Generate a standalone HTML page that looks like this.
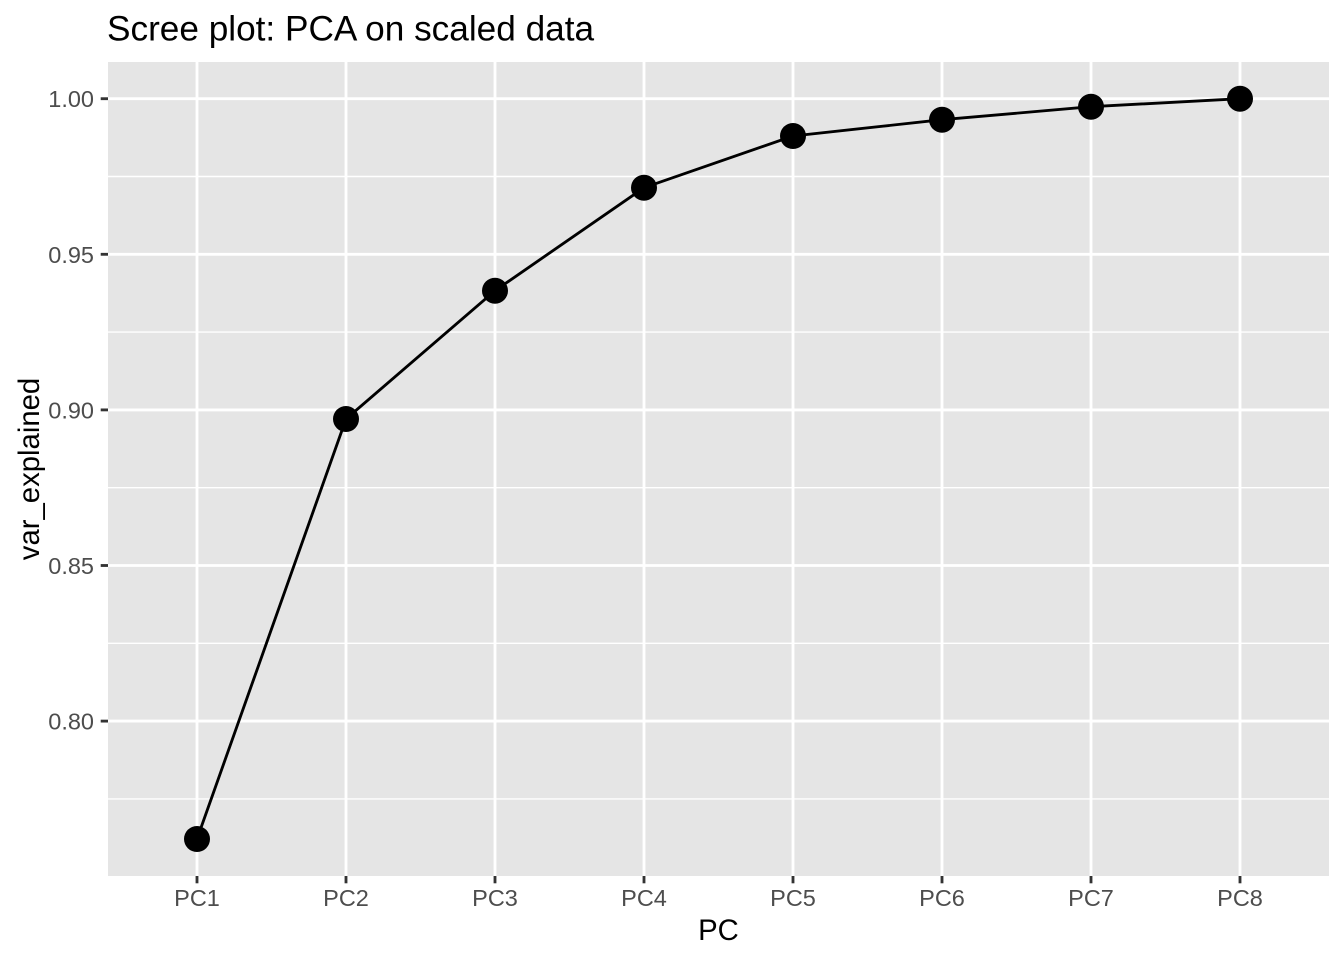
<!DOCTYPE html>
<html>
<head>
<meta charset="utf-8">
<style>
html,body{margin:0;padding:0;background:#fff;}
svg{display:block;}
text{font-family:"Liberation Sans",Arial,sans-serif;}
</style>
</head>
<body>
<svg width="1344" height="960" viewBox="0 0 1344 960" xmlns="http://www.w3.org/2000/svg">
<rect x="0" y="0" width="1344" height="960" fill="#ffffff"/>
<!-- panel -->
<rect x="108" y="62" width="1221" height="814" fill="#E5E5E5"/>
<!-- minor gridlines -->
<g stroke="#ffffff" stroke-width="1.42">
<line x1="108" x2="1329" y1="176.5" y2="176.5"/>
<line x1="108" x2="1329" y1="332.1" y2="332.1"/>
<line x1="108" x2="1329" y1="487.7" y2="487.7"/>
<line x1="108" x2="1329" y1="643.3" y2="643.3"/>
<line x1="108" x2="1329" y1="798.9" y2="798.9"/>
</g>
<!-- major gridlines -->
<g stroke="#ffffff" stroke-width="2.84">
<line x1="108" x2="1329" y1="98.7" y2="98.7"/>
<line x1="108" x2="1329" y1="254.3" y2="254.3"/>
<line x1="108" x2="1329" y1="409.9" y2="409.9"/>
<line x1="108" x2="1329" y1="565.5" y2="565.5"/>
<line x1="108" x2="1329" y1="721.1" y2="721.1"/>
<line y1="62" y2="876" x1="197" x2="197"/>
<line y1="62" y2="876" x1="346" x2="346"/>
<line y1="62" y2="876" x1="495" x2="495"/>
<line y1="62" y2="876" x1="644" x2="644"/>
<line y1="62" y2="876" x1="793" x2="793"/>
<line y1="62" y2="876" x1="942" x2="942"/>
<line y1="62" y2="876" x1="1091" x2="1091"/>
<line y1="62" y2="876" x1="1240" x2="1240"/>
</g>
<!-- data line -->
<polyline fill="none" stroke="#000000" stroke-width="2.84" stroke-linejoin="round" points="197,839 346,419 495,290.7 644,187.7 793,136 942,119.7 1091,106.7 1240,98.7"/>
<!-- points -->
<g fill="#000000">
<circle cx="197" cy="839" r="13"/>
<circle cx="346" cy="419" r="13"/>
<circle cx="495" cy="290.7" r="13"/>
<circle cx="644" cy="187.7" r="13"/>
<circle cx="793" cy="136" r="13"/>
<circle cx="942" cy="119.7" r="13"/>
<circle cx="1091" cy="106.7" r="13"/>
<circle cx="1240" cy="98.7" r="13"/>
</g>
<!-- ticks -->
<g stroke="#333333" stroke-width="2.84">
<line x1="100.7" x2="108" y1="98.7" y2="98.7"/>
<line x1="100.7" x2="108" y1="254.3" y2="254.3"/>
<line x1="100.7" x2="108" y1="409.9" y2="409.9"/>
<line x1="100.7" x2="108" y1="565.5" y2="565.5"/>
<line x1="100.7" x2="108" y1="721.1" y2="721.1"/>
<line y1="876" y2="883.3" x1="197" x2="197"/>
<line y1="876" y2="883.3" x1="346" x2="346"/>
<line y1="876" y2="883.3" x1="495" x2="495"/>
<line y1="876" y2="883.3" x1="644" x2="644"/>
<line y1="876" y2="883.3" x1="793" x2="793"/>
<line y1="876" y2="883.3" x1="942" x2="942"/>
<line y1="876" y2="883.3" x1="1091" x2="1091"/>
<line y1="876" y2="883.3" x1="1240" x2="1240"/>
</g>
<!-- y tick labels -->
<g fill="#4D4D4D" font-size="23.5" text-anchor="end">
<text x="94" y="107.2">1.00</text>
<text x="94" y="262.8">0.95</text>
<text x="94" y="418.4">0.90</text>
<text x="94" y="574">0.85</text>
<text x="94" y="729.6">0.80</text>
</g>
<!-- x tick labels -->
<g fill="#4D4D4D" font-size="23.5" text-anchor="middle">
<text x="197" y="906">PC1</text>
<text x="346" y="906">PC2</text>
<text x="495" y="906">PC3</text>
<text x="644" y="906">PC4</text>
<text x="793" y="906">PC5</text>
<text x="942" y="906">PC6</text>
<text x="1091" y="906">PC7</text>
<text x="1240" y="906">PC8</text>
</g>
<!-- axis titles -->
<text x="718.5" y="940" font-size="29.3" text-anchor="middle" fill="#000000">PC</text>
<text transform="translate(39,469) rotate(-90)" x="0" y="0" font-size="29.3" text-anchor="middle" fill="#000000">var_explained</text>
<!-- title -->
<text x="107" y="40.5" font-size="35.2" fill="#000000">Scree plot: PCA on scaled data</text>
</svg>
</body>
</html>
